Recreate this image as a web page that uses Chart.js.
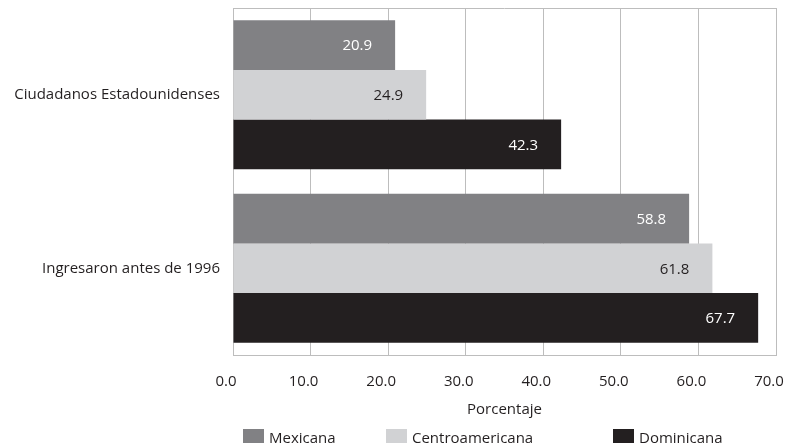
<!DOCTYPE html>
<html>
<head>
<meta charset="utf-8">
<script src="https://cdn.jsdelivr.net/npm/chart.js@4.4.1/dist/chart.umd.min.js"></script>
<style>
  html, body { margin: 0; padding: 0; background: #ffffff; }
  #wrap { width: 786px; height: 448px; }
</style>
</head>
<body>
<div id="wrap"><canvas id="c" width="786" height="448"></canvas></div>
<script>
// Categories and series values (percentages)
const categories = ['Ciudadanos Estadounidenses', 'Ingresaron antes de 1996'];
const seriesNames = ['Mexicana', 'Centroamericana', 'Dominicana'];
const mexicana = [20.9, 58.8];
const centroamericana = [24.9, 61.8];
const dominicana = [42.3, 67.7];
const xTicks = [0, 10, 20, 30, 40, 50, 60, 70];
const axisTitle = 'Porcentaje';

const FONT = '"Open Sans", "DejaVu Sans", sans-serif';
const TEXT = '#231f20';
const GRID = '#bdbdbd';

// Value printed inside the end of each bar
const valueLabels = {
  id: 'valueLabels',
  afterDatasetsDraw(chart) {
    const ctx = chart.ctx;
    ctx.save();
    ctx.font = '15px ' + FONT;
    ctx.textAlign = 'right';
    ctx.textBaseline = 'middle';
    chart.data.datasets.forEach((ds, i) => {
      const meta = chart.getDatasetMeta(i);
      meta.data.forEach((bar, j) => {
        ctx.fillStyle = ds.labelColor;
        ctx.fillText(ds.data[j].toFixed(1), bar.x - 23, bar.y + 1);
      });
    });
    ctx.restore();
  }
};

// Top edge of the plot frame
const frameTop = {
  id: 'frameTop',
  beforeDatasetsDraw(chart) {
    const { ctx, chartArea: a } = chart;
    ctx.save();
    ctx.strokeStyle = GRID;
    ctx.lineWidth = 1;
    ctx.beginPath();
    ctx.moveTo(a.left, a.top + 0.5);
    ctx.lineTo(a.right, a.top + 0.5);
    ctx.stroke();
    ctx.restore();
  }
};

// Legend row under the axis title
const bottomLegend = {
  id: 'bottomLegend',
  afterDraw(chart, args, opts) {
    const ctx = chart.ctx;
    ctx.save();
    ctx.font = '15px ' + FONT;
    ctx.textAlign = 'left';
    ctx.textBaseline = 'alphabetic';
    chart.data.datasets.forEach((ds, i) => {
      const x = opts.xs[i];
      ctx.fillStyle = ds.backgroundColor;
      ctx.fillRect(x, opts.boxTop, opts.boxW, opts.boxH);
      ctx.fillStyle = TEXT;
      ctx.fillText(ds.label, x + opts.boxW + 5, opts.textY);
    });
    ctx.restore();
  }
};

new Chart(document.getElementById('c'), {
  type: 'bar',
  data: {
    labels: categories,
    datasets: [
      { label: seriesNames[0], data: mexicana, backgroundColor: '#818184', labelColor: '#ffffff' },
      { label: seriesNames[1], data: centroamericana, backgroundColor: '#d1d2d4', labelColor: TEXT },
      { label: seriesNames[2], data: dominicana, backgroundColor: '#231f20', labelColor: '#ffffff' }
    ]
  },
  options: {
    indexAxis: 'y',
    responsive: false,
    animation: false,
    devicePixelRatio: 1,
    categoryPercentage: 0.86,
    barPercentage: 1.0,
    layout: { padding: { top: 8, right: 10, bottom: 29, left: 0 } },
    plugins: {
      legend: { display: false },
      tooltip: { enabled: false },
      bottomLegend: { xs: [243, 386, 613], boxTop: 429, boxW: 21, boxH: 14, textY: 443 }
    },
    scales: {
      x: {
        type: 'linear',
        min: 0,
        max: 70,
        afterBuildTicks: (s) => { s.ticks = xTicks.map(v => ({ value: v })); },
        afterFit: (s) => { s.height = 64; s.paddingLeft = 0; s.paddingRight = 0; },
        grid: { color: GRID, lineWidth: 1, drawTicks: false },
        border: { display: true, color: GRID },
        ticks: {
          padding: 18,
          labelOffset: -7,
          color: TEXT,
          font: { family: FONT, size: 15 },
          maxRotation: 0,
          autoSkip: false,
          callback: (v) => Number(v).toFixed(1)
        },
        title: {
          display: true,
          text: axisTitle,
          color: TEXT,
          font: { family: FONT, size: 15 },
          padding: { top: 0, bottom: 0 }
        }
      },
      y: {
        type: 'category',
        afterFit: (s) => { s.width = 233; s.paddingTop = 0; s.paddingBottom = 0; },
        grid: { display: false },
        border: { display: true, color: GRID },
        ticks: {
          padding: 5,
          color: TEXT,
          font: { family: FONT, size: 15 }
        }
      }
    }
  },
  plugins: [valueLabels, frameTop, bottomLegend]
});
</script>
</body>
</html>
